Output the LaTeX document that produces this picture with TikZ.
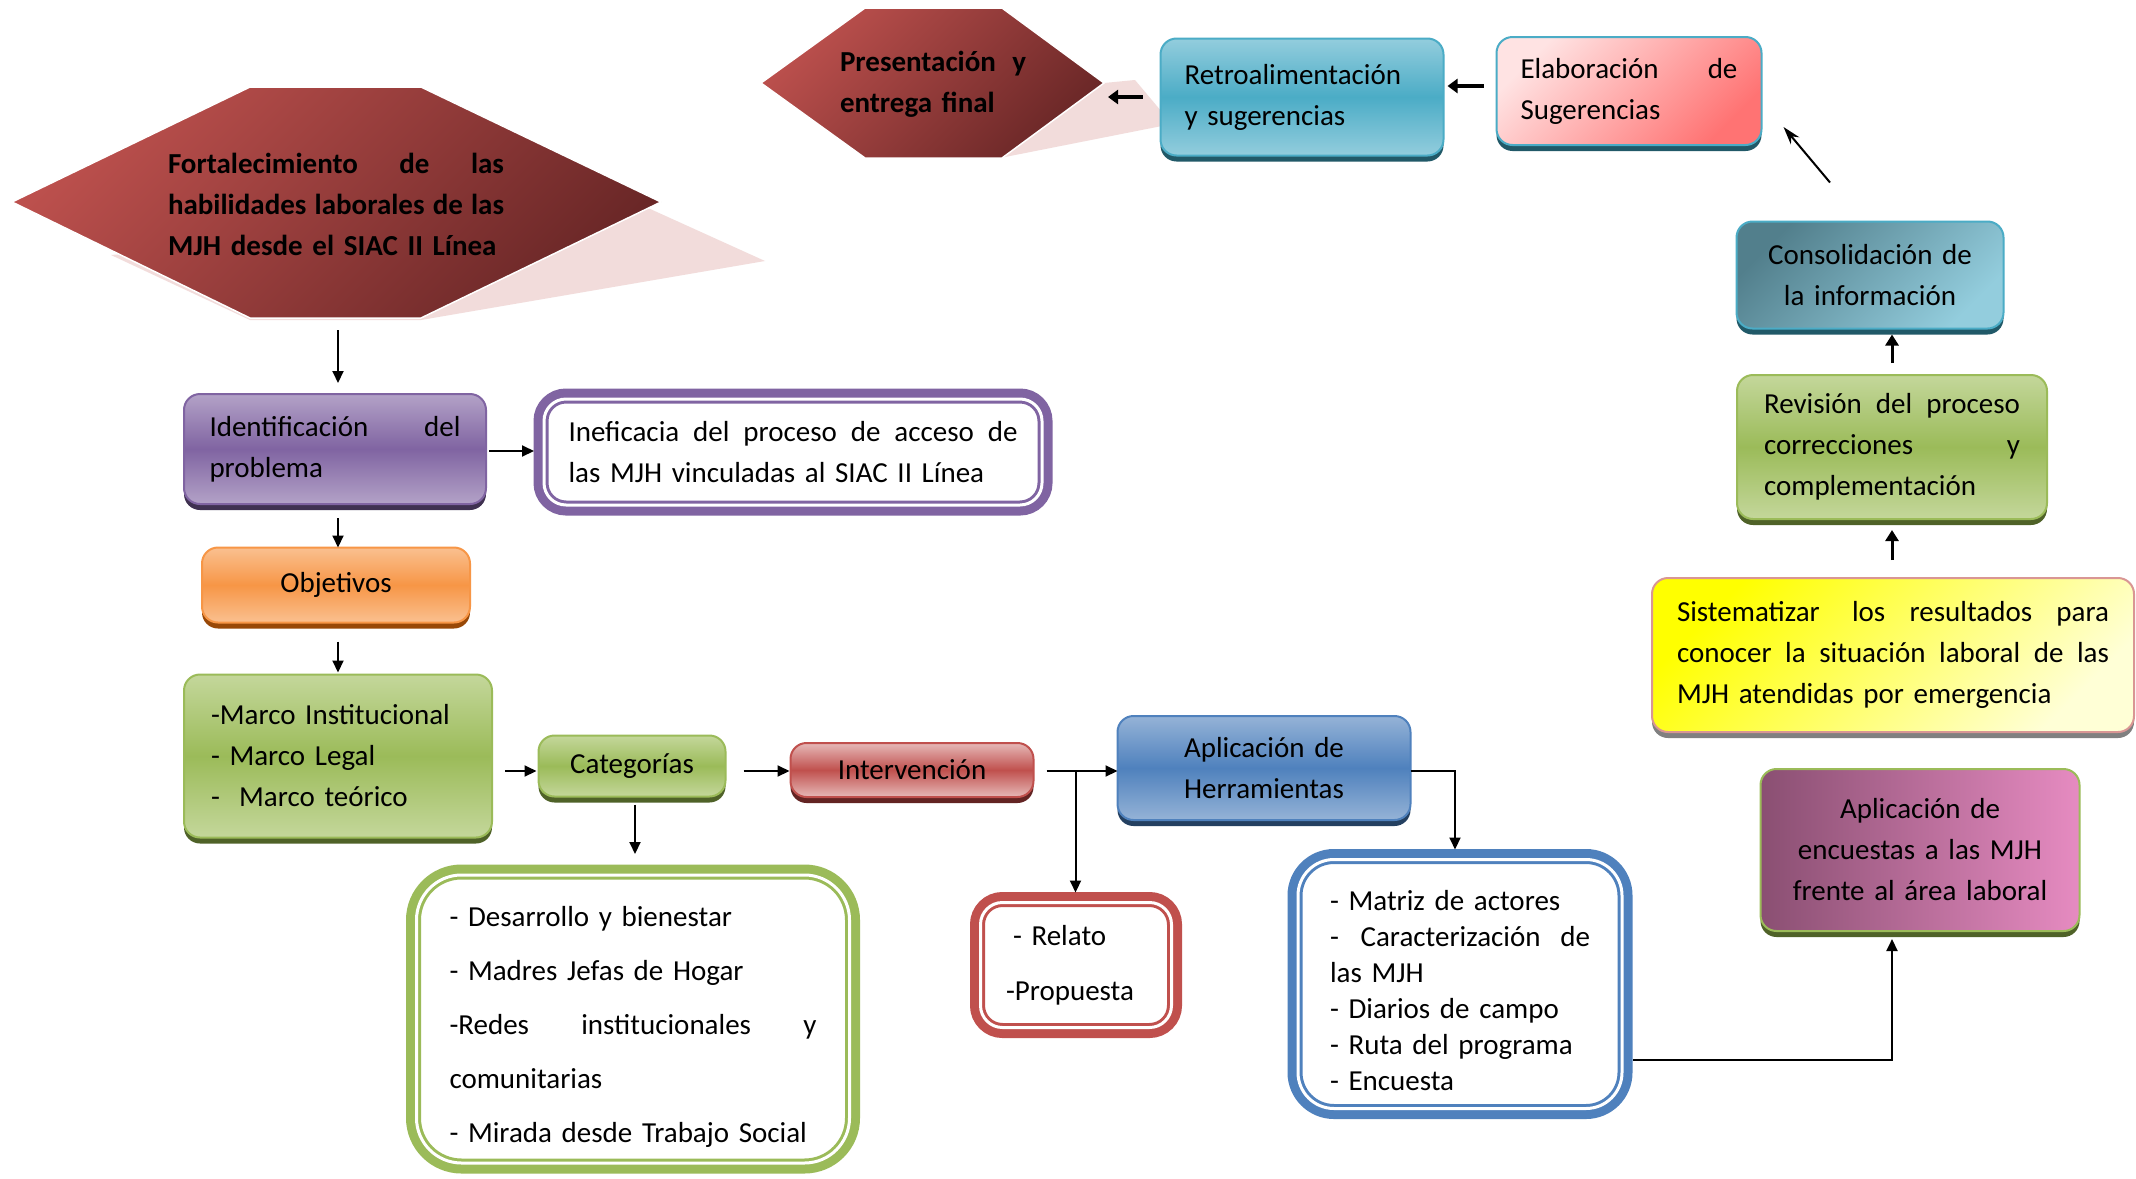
\documentclass[tikz,border=0pt]{standalone}
\usepackage{fontspec}
\setmainfont{Carlito}
\usetikzlibrary{arrows.meta,shadows,calc}
\definecolor{purpC}{HTML}{8064A2}
\definecolor{purpL}{HTML}{B3A2C7}
\definecolor{purpS}{HTML}{3F3151}
\definecolor{greenC}{HTML}{9BBB59}
\definecolor{greenL}{HTML}{C4D79B}
\definecolor{greenS}{HTML}{4F6228}
\definecolor{orngC}{HTML}{F79646}
\definecolor{orngL}{HTML}{FAC090}
\definecolor{orngS}{HTML}{984807}
\definecolor{redC}{HTML}{C0504D}
\definecolor{redL}{HTML}{E6B9B8}
\definecolor{redS}{HTML}{632423}
\definecolor{blueC}{HTML}{4F81BD}
\definecolor{blueL}{HTML}{95B3D7}
\definecolor{blueS}{HTML}{244061}
\definecolor{aquaC}{HTML}{4BACC6}
\definecolor{aquaL}{HTML}{93CDDD}
\definecolor{aquaS}{HTML}{215968}
\definecolor{pinkA}{HTML}{FFE3E3}
\definecolor{pinkB}{HTML}{FF7373}
\definecolor{consA}{HTML}{527F8C}
\definecolor{yelA}{HTML}{FFFF00}
\definecolor{yelB}{HTML}{FFFFD6}
\definecolor{yelD}{HTML}{D99694}
\definecolor{grayS}{HTML}{808080}
\definecolor{encA}{HTML}{8A4F72}
\definecolor{encB}{HTML}{E68BC1}
\definecolor{hexA}{HTML}{BC504D}
\definecolor{hexB}{HTML}{6A2727}
\definecolor{hexS}{HTML}{F2DCDB}
\newcommand{\jl}[2]{\makebox[#1][s]{\spaceskip=0.23em plus 1fil\relax #2}}
\tikzset{
  every node/.style={inner sep=0pt, outer sep=0pt},
  txt/.style={font=\fontsize{29}{41}\selectfont},
  btxt/.style={font=\bfseries\fontsize{29}{41}\selectfont},
  base/.style={rounded corners=16pt, line width=2pt, txt},
  shad/.style={drop shadow={shadow xshift=0pt, shadow yshift=-6pt, fill=#1, opacity=1}},
  sbox/.style={base, draw=#1C, top color=#1L, bottom color=#1L, middle color=#1C, shad=#1S},
  dbox/.style 2 args={rounded corners=#2, fill=white, draw=#1, line width=3pt,
    double=white, double distance=3pt, preaction={draw=#1, line width=21pt}, txt},
  arr/.style={draw=black, line width=2pt, -{Triangle[length=12pt,width=11pt]}},
  arrb/.style={draw=black, line width=3pt, -{Triangle[length=11pt,width=13pt]}},
  arrt/.style={draw=black, line width=3.5pt, -{Triangle[length=10pt,width=14pt]}},
  arrd/.style={draw=black, line width=2pt, -{Stealth[length=18pt,width=11pt]}},
  hexfill/.style={draw=white, line width=1.5pt, top color=hexA, bottom color=hexB, shading angle=45},
}
\begin{document}
\begin{tikzpicture}[x=1pt, y=-1pt]
\useasboundingbox (0,0) rectangle (2136,1178);
\fill[white] (0,0) rectangle (2136,1178);

% big hexagon
\fill[hexS] (111,255) -- (648,208) -- (765,261) -- (421,320) -- (250,320) -- cycle;
\path[hexfill] (12,202) -- (250,87) -- (421,87) -- (661,202) -- (421,318) -- (250,318) -- cycle;
\node[btxt, text width=336pt, align=left] (fort) at (336,204)
  {\jl{336pt}{Fortalecimiento de las}\\\jl{336pt}{habilidades laborales de las}\\MJH desde el SIAC II Línea};

% small hexagon
\fill[hexS] (1104,83) -- (1135,80) -- (1172,124) -- (1000,158) -- cycle;
\path[hexfill] (761,83) -- (865,8) -- (1002,8) -- (1104,83) -- (1002,158) -- (865,158) -- cycle;
\node[btxt, text width=186pt, align=left] (pres) at (933,84)
  {\jl{186pt}{Presentación y}\\entrega final};
\coordinate (presr) at (1104,83);

% top right boxes
\node[sbox=aqua, minimum width=283pt, minimum height=117pt, text width=235pt, align=left] (retro) at (1302,97)
  {Retroalimentación\\y sugerencias};
\node[base, draw=aquaC, top color=pinkA, bottom color=pinkB, shading angle=45, shad=aquaS,
  minimum width=265pt, minimum height=108pt, text width=217pt, align=left] (elab) at (1629,91)
  {\jl{217pt}{Elaboración de}\\Sugerencias};
\node[base, draw=aquaC, top color=consA, bottom color=aquaL, shading angle=45, shad=aquaS,
  minimum width=267pt, minimum height=107pt, text width=250pt, align=center] (cons) at (1870,275)
  {Consolidación de\\la información};
\node[sbox=green, minimum width=310pt, minimum height=144pt, text width=256pt, align=left] (rev) at (1892,447)
  {\jl{256pt}{Revisión del proceso}\\\jl{256pt}{correcciones y}\\complementación};
\node[base, draw=yelD, top color=yelA, bottom color=yelB, shading angle=45, shad=grayS,
  minimum width=482pt, minimum height=154pt, text width=432pt, align=left] (sist) at (1893,655)
  {\jl{432pt}{Sistematizar\hspace{8pt} los resultados para}\\\jl{432pt}{conocer la situación laboral de las}\\MJH atendidas por emergencia};
\node[base, draw=greenC, left color=encA, right color=encB, shad=greenS,
  minimum width=319pt, minimum height=162pt, text width=300pt, align=center] (enc) at (1920,850)
  {Aplicación de\\encuestas a las MJH\\frente al área laboral};

% left column
\node[sbox=purp, minimum width=302pt, minimum height=110pt, text width=251pt, align=left] (ident) at (335,449)
  {\jl{251pt}{Identificación del}\\problema};
\node[dbox={purpC}{22pt}, minimum width=498pt, minimum height=106pt, text width=449pt, align=left] (inef) at (793,452)
  {\jl{449pt}{Ineficacia del proceso de acceso de}\\las MJH vinculadas al SIAC II Línea};
\node[sbox=orng, minimum width=268pt, minimum height=75pt, align=center] (obj) at (336,585) {Objetivos};
\node[sbox=green, minimum width=308pt, minimum height=163pt, text width=254pt, align=left] (marco) at (338,756)
  {-Marco Institucional\\- Marco Legal\\-\ \ Marco teórico};
\node[sbox=green, minimum width=187pt, minimum height=61pt, align=center] (cat) at (632,766) {Categorías};
\node[sbox=red, minimum width=243pt, minimum height=54pt, align=center] (interv) at (912,770) {Intervención};
\node[sbox=blue, minimum width=293pt, minimum height=104pt, text width=280pt, align=center] (apph) at (1264,768)
  {Aplicación de\\Herramientas};

% double-border lists
\node[dbox={redC}{22pt}, minimum width=191pt, minimum height=125pt, text width=140pt, align=left,
  font=\fontsize{29}{55}\selectfont] (relato) at (1076,965)
  {\hspace*{7pt}- Relato\\-Propuesta};
\node[dbox={blueC}{36pt}, minimum width=324pt, minimum height=249pt, text width=260pt, align=left,
  font=\fontsize{29}{36}\selectfont] (herr) at (1460,984)
  {\rule{0pt}{34pt}- Matriz de actores\\\jl{260pt}{-\hspace{8pt} Caracterización\hspace{6pt} de}\\las MJH\\- Diarios de campo\\- Ruta del programa\\- Encuesta};
\node[dbox={greenC}{45pt}, minimum width=433pt, minimum height=288pt, text width=367pt, align=left,
  font=\fontsize{29}{54}\selectfont] (catlist) at (633,1019)
  {\rule{0pt}{36pt}- Desarrollo y bienestar\\- Madres Jefas de Hogar\\\jl{367pt}{-Redes institucionales y}\\comunitarias\\- Mirada desde Trabajo Social};

% connectors
\coordinate (fortb) at (338,330);
\coordinate (rowy) at (0,771);
\draw[arr] (fortb) -- ($(fortb |- ident.north)+(0,-11)$);
\draw[arr] ($(ident.east)+(3,2)$) -- ($(inef.west)+(-10,-1)$);
\draw[arr] ($(ident.south)+(3,14)$) -- ($(obj.north)+(2,0)$);
\draw[arr] ($(obj.south)+(2,19)$) -- ($(marco.north)+(0,-2)$);
\draw[arr] ($(marco.east |- rowy)+(13,0)$) -- ($(cat.west |- rowy)+(-2,0)$);
\draw[arr] ($(cat.east |- rowy)+(18,0)$) -- ($(interv.west |- rowy)+(-1,0)$);
\draw[arr] ($(interv.east |- rowy)+(13,0)$) -- (apph.west |- rowy);
\coordinate (br1) at ($(interv.east |- rowy)+(42,0)$);
\draw[arr] (br1) -- ($(br1 |- relato.north)+(0,-10)$);
\draw[arr] (apph.east |- rowy) -| ($(herr.north)+(-5,-10)$);
\draw[arr] ($(cat.south)+(3,8)$) -- ($(catlist.north)+(2,-21)$);
\draw[arr] ($(herr.east)+(11,76)$) -| ($(enc.south)+(-28,8)$);
\draw[arrb] ($(sist.north)+(-1,-18)$) -- ($(rev.south)+(0,11)$);
\draw[arrb] ($(rev.north)+(0,-12)$) -- ($(cons.south)+(22,6)$);
\draw[arrd] ($(cons.north)+(-40,-39)$) -- ($(elab.east)+(22,36)$);
\draw[arrt] ($(elab.west)+(-13,-5)$) -- ($(retro.east)+(4,-11)$);
\draw[arrt] ($(retro.west)+(-18,0)$) -- ($(presr)+(4,14)$);
\end{tikzpicture}
\end{document}
